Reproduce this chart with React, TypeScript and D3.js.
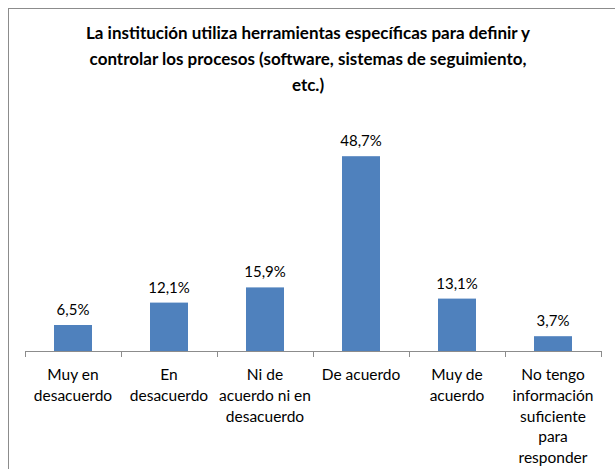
import React from "react";
import * as d3 from "d3";

const categories = [
  "Muy en\ndesacuerdo",
  "En\ndesacuerdo",
  "Ni de\nacuerdo ni en\ndesacuerdo",
  "De acuerdo",
  "Muy de\nacuerdo",
  "No tengo\ninformación\nsuficiente\npara\nresponder",
];
const values = [6.5, 12.1, 15.9, 48.7, 13.1, 3.7];
const titleLines = [
  "La institución utiliza herramientas específicas para definir y",
  "controlar los procesos (software, sistemas de seguimiento,",
  "etc.)",
];

const W = 615;
const H = 469;
const FONT = "Lato, 'Liberation Sans', sans-serif";

export default function App() {
  const x = d3.scaleBand<string>().domain(categories).range([25, 601]).paddingInner(0.6).paddingOuter(0.3);
  const y = d3.scaleLinear().domain([0, 60]).range([351, 111]);
  const bw = 38;
  const bounds = categories.map((_, i) => 25 + i * x.step());
  bounds.push(601);
  const fmt = (v: number) => v.toFixed(1).replace(".", ",") + "%";

  return (
    <svg
      width={W}
      height={H}
      style={{ position: "absolute", left: 0, top: 0, background: "#fff" }}
      fontFamily={FONT}
    >
      <rect x={8.5} y={8.5} width={W + 10} height={H + 10} fill="#fff" stroke="#8c8c8c" strokeWidth={1} />
      {titleLines.map((t, i) => (
        <text key={i} x={308} y={39 + i * 26} textAnchor="middle" fontSize={17} fontWeight="bold" fill="#000">
          {t}
        </text>
      ))}
      {categories.map((c, i) => {
        const cx = (x(c) as number) + x.bandwidth() / 2;
        return (
          <g key={c}>
            <rect x={cx - bw / 2} y={y(values[i])} width={bw} height={y(0) - y(values[i])} fill="#4f81bd" />
            <text x={cx} y={y(values[i]) - 10} textAnchor="middle" fontSize={15} fill="#000">
              {fmt(values[i])}
            </text>
            {c.split("\n").map((ln, j) => (
              <text key={j} x={cx} y={380 + j * 20.8} textAnchor="middle" fontSize={15.5} fill="#000">
                {ln}
              </text>
            ))}
          </g>
        );
      })}
      <line x1={25} x2={601} y1={351.5} y2={351.5} stroke="#8c8c8c" />
      {bounds.map((b, i) => (
        <line key={i} x1={Math.round(b) + 0.5} x2={Math.round(b) + 0.5} y1={351} y2={357} stroke="#8c8c8c" />
      ))}
    </svg>
  );
}
